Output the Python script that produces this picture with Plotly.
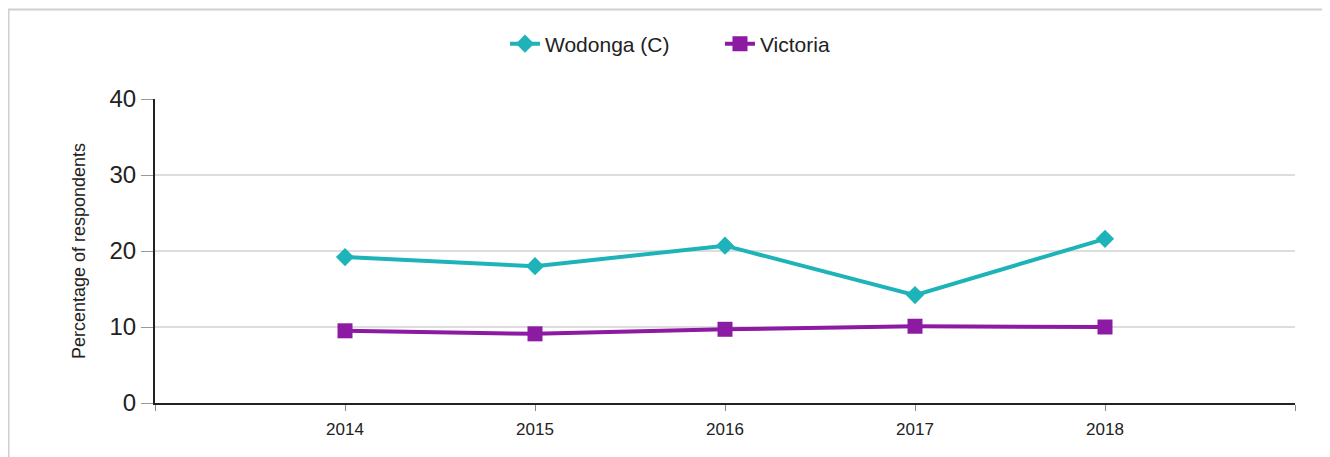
import plotly.graph_objects as go

years = [2014, 2015, 2016, 2017, 2018]
wodonga = [19.2, 18.0, 20.7, 14.2, 21.6]
victoria = [9.5, 9.1, 9.7, 10.1, 10.0]
y_ticks = [0, 10, 20, 30, 40]
x_tickvals = [2013, 2014, 2015, 2016, 2017, 2018, 2019]
x_ticktext = ["", "2014", "2015", "2016", "2017", "2018", ""]

TEAL = "#1DB3B8"
PURPLE = "#8C1AA3"
FONT = "Liberation Sans, Arial, sans-serif"

fig = go.Figure()
fig.add_trace(go.Scatter(
    x=years, y=wodonga, name="Wodonga (C)", mode="lines+markers",
    line=dict(color=TEAL, width=4),
    marker=dict(symbol="diamond", size=14, color=TEAL),
))
fig.add_trace(go.Scatter(
    x=years, y=victoria, name="Victoria", mode="lines+markers",
    line=dict(color=PURPLE, width=4),
    marker=dict(symbol="square", size=15, color=PURPLE),
))

fig.update_layout(
    width=1330, height=457,
    margin=dict(l=147, r=43, t=91, b=62, autoexpand=False),
    paper_bgcolor="white", plot_bgcolor="white",
    font=dict(family=FONT, color="#222222"),
    showlegend=True,
    legend=dict(
        orientation="h", x=0.307, xanchor="left", y=1.181, yanchor="middle",
        font=dict(size=21, family=FONT, color="#222222"),
        bgcolor="rgba(0,0,0,0)", traceorder="normal",
        entrywidth=170, entrywidthmode="pixels",
    ),
    xaxis=dict(
        range=[2013, 2019], tickmode="array",
        tickvals=x_tickvals, ticktext=x_ticktext,
        showgrid=False, zeroline=False, automargin=False,
        showline=True, linecolor="#222222", linewidth=2,
        ticks="outside", ticklen=6, tickcolor="#888888", tickwidth=1,
        ticklabelstandoff=4,
        tickfont=dict(size=17, family=FONT, color="#222222"),
    ),
    yaxis=dict(
        range=[0, 40], tickmode="array", tickvals=y_ticks,
        showgrid=True, gridcolor="#dddddd", gridwidth=2,
        zeroline=False, automargin=False,
        showline=True, linecolor="#222222", linewidth=2,
        ticks="outside", ticklen=12, tickcolor="#999999", tickwidth=1,
        tickfont=dict(size=24, family=FONT, color="#222222"),
        title=dict(text="Percentage of respondents", standoff=19,
                   font=dict(size=18, family=FONT, color="#222222")),
    ),
    shapes=[dict(
        type="rect", xref="paper", yref="paper",
        x0=-0.1285, x1=1.2, y0=-0.3, y1=1.294,
        line=dict(color="#d0d0d0", width=2), fillcolor="rgba(0,0,0,0)",
        layer="below",
    )],
)

fig.write_html("out.html")
